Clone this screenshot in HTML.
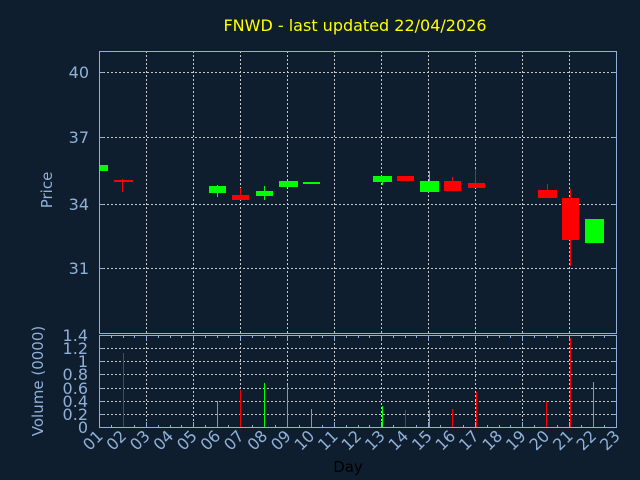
<!DOCTYPE html>
<html><head><style>body{margin:0;background:#0f1e2e}svg{display:block}</style></head><body>
<svg width="640" height="480" xmlns="http://www.w3.org/2000/svg" font-family="DejaVu Sans, Liberation Sans, sans-serif">
<rect width="640" height="480" fill="#0f1e2e"/>
<text x="355" y="31" fill="#ffff00" font-size="16" text-anchor="middle">FNWD - last updated 22/04/2026</text>
<g stroke="#c8c8c8" stroke-width="1" stroke-dasharray="2,2">
<line x1="146.5" y1="51" x2="146.5" y2="427"/><line x1="193.5" y1="51" x2="193.5" y2="427"/>
<line x1="240.5" y1="51" x2="240.5" y2="427"/><line x1="287.5" y1="51" x2="287.5" y2="427"/>
<line x1="334.5" y1="51" x2="334.5" y2="427"/><line x1="381.5" y1="51" x2="381.5" y2="427"/>
<line x1="428.5" y1="51" x2="428.5" y2="427"/><line x1="475.5" y1="51" x2="475.5" y2="427"/>
<line x1="522.5" y1="51" x2="522.5" y2="427"/><line x1="569.5" y1="51" x2="569.5" y2="427"/>
<line x1="99" y1="72.5" x2="616" y2="72.5"/><line x1="99" y1="137.5" x2="616" y2="137.5"/>
<line x1="99" y1="204.5" x2="616" y2="204.5"/><line x1="99" y1="268.5" x2="616" y2="268.5"/>
<line x1="99" y1="348.5" x2="616" y2="348.5"/><line x1="99" y1="361.5" x2="616" y2="361.5"/>
<line x1="99" y1="374.5" x2="616" y2="374.5"/><line x1="99" y1="388.5" x2="616" y2="388.5"/>
<line x1="99" y1="401.5" x2="616" y2="401.5"/><line x1="99" y1="414.5" x2="616" y2="414.5"/>
</g>
<g stroke="#8fb0d8" fill="none">
<rect x="99.5" y="51.5" width="517" height="282"/>
<line x1="99" y1="335.5" x2="617" y2="335.5"/>
<line x1="99.5" y1="335" x2="99.5" y2="427"/>
<line x1="616.5" y1="335" x2="616.5" y2="427"/>
<line x1="99" y1="427.5" x2="617" y2="427.5"/>
<path d="M99,72.5h5M99,137.5h5M99,204.5h5M99,268.5h5M612,72.5h5M612,137.5h5M612,204.5h5M612,268.5h5
M99,348.5h5M99,361.5h5M99,374.5h5M99,388.5h5M99,401.5h5M99,414.5h5M612,348.5h5M612,361.5h5M612,374.5h5M612,388.5h5M612,401.5h5M612,414.5h5"/>
<path d="M146.5,427v-5M193.5,427v-5M240.5,427v-5M287.5,427v-5M334.5,427v-5M381.5,427v-5M428.5,427v-5M475.5,427v-5M522.5,427v-5M569.5,427v-5
M146.5,336v5M193.5,336v5M240.5,336v5M287.5,336v5M334.5,336v5M381.5,336v5M428.5,336v5M475.5,336v5M522.5,336v5M569.5,336v5
M111.5,427v-2M123.5,427v-2M134.5,427v-2M158.5,427v-2M170.5,427v-2M181.5,427v-2M205.5,427v-2M217.5,427v-2M228.5,427v-2M252.5,427v-2M264.5,427v-2M275.5,427v-2M299.5,427v-2M311.5,427v-2M322.5,427v-2M346.5,427v-2M358.5,427v-2M369.5,427v-2M393.5,427v-2M405.5,427v-2M416.5,427v-2M440.5,427v-2M452.5,427v-2M463.5,427v-2M487.5,427v-2M499.5,427v-2M510.5,427v-2M534.5,427v-2M546.5,427v-2M557.5,427v-2M581.5,427v-2M593.5,427v-2M604.5,427v-2
M111.5,336v2M123.5,336v2M134.5,336v2M158.5,336v2M170.5,336v2M181.5,336v2M205.5,336v2M217.5,336v2M228.5,336v2M252.5,336v2M264.5,336v2M275.5,336v2M299.5,336v2M311.5,336v2M322.5,336v2M346.5,336v2M358.5,336v2M369.5,336v2M393.5,336v2M405.5,336v2M416.5,336v2M440.5,336v2M452.5,336v2M463.5,336v2M487.5,336v2M499.5,336v2M510.5,336v2M534.5,336v2M546.5,336v2M557.5,336v2M581.5,336v2M593.5,336v2M604.5,336v2"/>
</g>
<g fill="#ff0000" stroke="#ff0000">
<line x1="122.5" y1="179" x2="122.5" y2="192"/><rect x="114" y="180" width="19" height="2" stroke="none"/>
<line x1="240.5" y1="188" x2="240.5" y2="200"/><rect x="232" y="195" width="17" height="5" stroke="none"/>
<rect x="397" y="176" width="17" height="5" stroke="none"/>
<line x1="452.5" y1="177" x2="452.5" y2="191"/><rect x="444" y="181" width="17" height="10" stroke="none"/>
<line x1="475.5" y1="169" x2="475.5" y2="188"/><rect x="468" y="183" width="17" height="5" stroke="none"/>
<line x1="547.5" y1="184" x2="547.5" y2="198"/><rect x="538" y="190" width="19" height="8" stroke="none"/>
<line x1="570.5" y1="189" x2="570.5" y2="266"/><rect x="562" y="198" width="17" height="42" stroke="none"/>
</g>
<g fill="#00ff00" stroke="#00ff00">
<rect x="100" y="165" width="8" height="6" stroke="none"/>
<line x1="217.5" y1="185" x2="217.5" y2="197"/><rect x="209" y="186" width="17" height="7" stroke="none"/>
<line x1="264.5" y1="186" x2="264.5" y2="200"/><rect x="256" y="191" width="17" height="5" stroke="none"/>
<rect x="279" y="181" width="19" height="6" stroke="none"/>
<rect x="303" y="182" width="17" height="2" stroke="none"/>
<line x1="382.5" y1="176" x2="382.5" y2="185"/><rect x="373" y="176" width="19" height="6" stroke="none"/>
<line x1="429.5" y1="171" x2="429.5" y2="192"/><rect x="420" y="181" width="19" height="11" stroke="none"/>
<rect x="585" y="219" width="19" height="24" stroke="none"/>
</g>
<g stroke-width="1">
<line x1="123.5" y1="353" x2="123.5" y2="427" stroke="#ff0000"/>
<line x1="217.5" y1="401" x2="217.5" y2="427" stroke="#00ff00"/>
<line x1="240.5" y1="390" x2="240.5" y2="427" stroke="#ff0000"/>
<line x1="264.5" y1="383" x2="264.5" y2="427" stroke="#00ff00"/>
<line x1="287.5" y1="385" x2="287.5" y2="427" stroke="#00ff00"/>
<line x1="311.5" y1="409" x2="311.5" y2="427" stroke="#00ff00"/>
<line x1="382.5" y1="406" x2="382.5" y2="427" stroke="#00ff00"/>
<line x1="405.5" y1="410" x2="405.5" y2="427" stroke="#ff0000"/>
<line x1="429.5" y1="410" x2="429.5" y2="427" stroke="#00ff00"/>
<line x1="452.5" y1="409" x2="452.5" y2="427" stroke="#ff0000"/>
<line x1="476.5" y1="392" x2="476.5" y2="427" stroke="#ff0000"/>
<line x1="546.5" y1="401" x2="546.5" y2="427" stroke="#ff0000"/>
<line x1="570.5" y1="338" x2="570.5" y2="427" stroke="#ff0000"/>
<line x1="593.5" y1="382" x2="593.5" y2="427" stroke="#00ff00"/>
</g>
<g fill="#8fb0d8" font-size="16" text-anchor="end">
<text x="89" y="78">40</text><text x="89" y="143">37</text><text x="89" y="210">34</text><text x="89" y="274">31</text>
<text x="88" y="341">1.4</text><text x="88" y="354">1.2</text><text x="88" y="367">1</text><text x="88" y="380">0.8</text>
<text x="88" y="394">0.6</text><text x="88" y="407">0.4</text><text x="88" y="420">0.2</text><text x="88" y="433">0</text>
</g>
<text transform="translate(52,190) rotate(-90)" fill="#8fb0d8" font-size="15" text-anchor="middle">Price</text>
<text transform="translate(43,381) rotate(-90)" fill="#8fb0d8" font-size="15" text-anchor="middle">Volume (0000)</text>
<text x="348" y="472" fill="#000000" font-size="15" text-anchor="middle">Day</text>
<g fill="#8fb0d8" font-size="16" text-anchor="end">
<text transform="translate(104,437) rotate(-45)">01</text><text transform="translate(127.5,437) rotate(-45)">02</text>
<text transform="translate(151,437) rotate(-45)">03</text><text transform="translate(174.5,437) rotate(-45)">04</text>
<text transform="translate(198,437) rotate(-45)">05</text><text transform="translate(221.5,437) rotate(-45)">06</text>
<text transform="translate(245,437) rotate(-45)">07</text><text transform="translate(268.5,437) rotate(-45)">08</text>
<text transform="translate(292,437) rotate(-45)">09</text><text transform="translate(315.5,437) rotate(-45)">10</text>
<text transform="translate(339,437) rotate(-45)">11</text><text transform="translate(362.5,437) rotate(-45)">12</text>
<text transform="translate(386,437) rotate(-45)">13</text><text transform="translate(409.5,437) rotate(-45)">14</text>
<text transform="translate(433,437) rotate(-45)">15</text><text transform="translate(456.5,437) rotate(-45)">16</text>
<text transform="translate(480,437) rotate(-45)">17</text><text transform="translate(503.5,437) rotate(-45)">18</text>
<text transform="translate(527,437) rotate(-45)">19</text><text transform="translate(550.5,437) rotate(-45)">20</text>
<text transform="translate(574,437) rotate(-45)">21</text><text transform="translate(597.5,437) rotate(-45)">22</text>
<text transform="translate(621,437) rotate(-45)">23</text>
</g>
</svg>
</body></html>
